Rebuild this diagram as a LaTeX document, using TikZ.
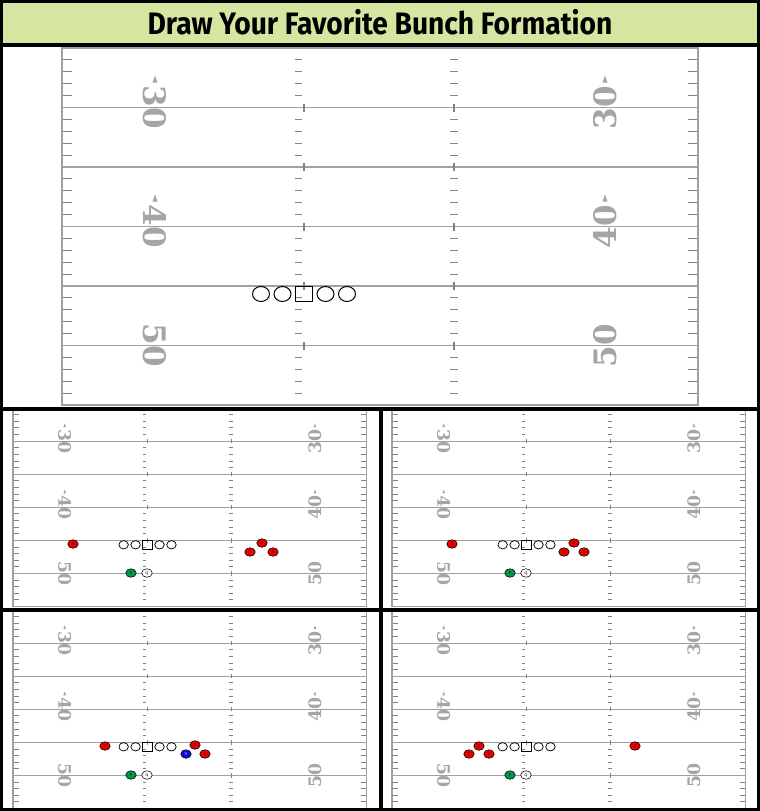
\documentclass[tikz,border=0pt]{standalone}
\usepackage{fontspec}
\usepackage{graphicx}
\newfontfamily\titlefont{Fira Sans}
\newfontfamily\numfont{DejaVu Serif}
\usetikzlibrary{shapes.geometric}
\definecolor{titlegreen}{RGB}{213,230,160}
\definecolor{yardgray}{RGB}{160,160,160}
\definecolor{tickgray}{RGB}{130,130,130}
\definecolor{numgray}{RGB}{165,165,165}
\definecolor{playred}{RGB}{235,0,0}
\definecolor{playgreen}{RGB}{0,150,75}
\definecolor{playblue}{RGB}{10,10,225}
\def\fieldscale{1}
\tikzset{
  yardline/.style={draw=yardgray, line width=0.6+0.9*\fieldscale},
  hashtick/.style={draw=tickgray, line width=0.4+0.7*\fieldscale},
  sideline/.style={draw=yardgray, line width=0.7+1.1*\fieldscale},
  yardnum/.style={text=numgray, inner sep=0, font=\numfont\bfseries\fontsize{31}{31}\selectfont},
  lineman/.style={draw, ellipse, minimum width=17, minimum height=15, inner sep=0, line width=0.4+0.6*\fieldscale},
  centerman/.style={lineman, rectangle},
  player/.style={draw, ellipse, minimum width=10.5, minimum height=8.5, inner sep=0, line width=0.6,
    font=\sffamily\fontsize{4}{4}\selectfont},
  wideout/.style={player, fill=playred},
  halfback/.style={player, fill=playgreen},
  passer/.style={player, fill=white},
  tightend/.style={player, fill=playblue, text=white},
  divider/.style={draw=black, line width=4}
}
% one field, #1/#2 top left corner, #3 scale, #4 name prefix
\newcommand{\drawfield}[4]{%
\def\fieldscale{#3}%
\begin{scope}[shift={(#1,#2)}, scale=#3, transform shape]
  \foreach \k in {1,...,5}
    \draw[yardline] (0,59.5*\k) -- (636,59.5*\k);
  \foreach \k in {0,...,5}
    \foreach \j in {1,...,4} {
      \draw[hashtick] (1,59.5*\k+11.9*\j) -- (10,59.5*\k+11.9*\j);
      \draw[hashtick] (233,59.5*\k+11.9*\j) -- (240,59.5*\k+11.9*\j);
      \draw[hashtick] (388,59.5*\k+11.9*\j) -- (396,59.5*\k+11.9*\j);
      \draw[hashtick] (626,59.5*\k+11.9*\j) -- (635,59.5*\k+11.9*\j);
    }
  \foreach \k in {1,...,5} {
    \draw[hashtick] (242,59.5*\k-4) -- (242,59.5*\k+4);
    \draw[hashtick] (392,59.5*\k-4) -- (392,59.5*\k+4);
  }
  \draw[sideline] (0,0) rectangle (636,357);
  % yard numbers
  \foreach \k/\yd in {1/30,3/40,5/50} {
    \node[yardnum, rotate=-90] (#4l\yd) at (93,59.5*\k) {\yd};
    \node[yardnum, rotate=90] (#4r\yd) at (543,59.5*\k) {\yd};
  }
  \foreach \k in {1,3} {
    \fill[numgray] (90.5,59.5*\k-25) -- (95.5,59.5*\k-25) -- (93,59.5*\k-32) -- cycle;
    \fill[numgray] (540.5,59.5*\k-25) -- (545.5,59.5*\k-25) -- (543,59.5*\k-32) -- cycle;
  }
  % offensive line
  \node[centerman] (#4c) at (242,246) {};
  \node[lineman] (#4lg) at (220.5,246) {};
  \node[lineman] (#4lt) at (199,246) {};
  \node[lineman] (#4rg) at (263.5,246) {};
  \node[lineman] (#4rt) at (285,246) {};
\end{scope}}

\begin{document}
\begin{tikzpicture}[x=1pt, y=-1pt]
\useasboundingbox (0,0) rectangle (760,811);
\fill[titlegreen] (0,0) rectangle (760,45);
\node[anchor=base, inner sep=0, font=\titlefont\bfseries\fontsize{31}{31}\selectfont] (title) at (380,34.5)
  {\scalebox{0.91}[1]{Draw Your Favorite Bunch Formation}};

\drawfield{62}{48}{1}{big}
\drawfield{13}{408}{0.556}{ul}
\drawfield{392}{408}{0.556}{ur}
\drawfield{13}{610}{0.556}{ll}
\drawfield{392}{610}{0.556}{lr}

% upper left
\node[wideout] (ulx) at (73,544) {X};
\node[wideout] (ulz) at (262,543) {Z};
\node[wideout] (ult) at (250,552) {T};
\node[wideout] (uls) at (273,552) {S};
\node[halfback] (ulf) at (131,573) {F};
\node[passer] (ulq) at (147,573) {Q};
% upper right
\node[wideout] (urx) at (452,544) {X};
\node[wideout] (urz) at (574,543) {Z};
\node[wideout] (urt) at (564,552) {T};
\node[wideout] (urs) at (584,552) {S};
\node[halfback] (urf) at (510,573) {F};
\node[passer] (urq) at (526,573) {Q};
% lower left
\node[wideout] (llx) at (105,746) {X};
\node[wideout] (llz) at (195,745) {Z};
\node[tightend] (lly) at (186,754) {Y};
\node[wideout] (lls) at (205,754) {S};
\node[halfback] (llf) at (131,775) {F};
\node[passer] (llq) at (147,775) {Q};
% lower right
\node[wideout] (lrx) at (479,746) {X};
\node[wideout] (lrt) at (469,754) {T};
\node[wideout] (lrs) at (489,754) {S};
\node[wideout] (lrz) at (635,746) {Z};
\node[halfback] (lrf) at (510,775) {F};
\node[passer] (lrq) at (526,775) {Q};

% frame
\draw[divider] (0,45) -- (760,45);
\draw[divider] (0,409) -- (760,409);
\draw[divider] (0,609.5) -- (760,609.5);
\draw[divider] (380.5,409) -- (380.5,811);
\draw[black, line width=3] (1.5,1.5) rectangle (758.5,809.5);
\end{tikzpicture}
\end{document}
